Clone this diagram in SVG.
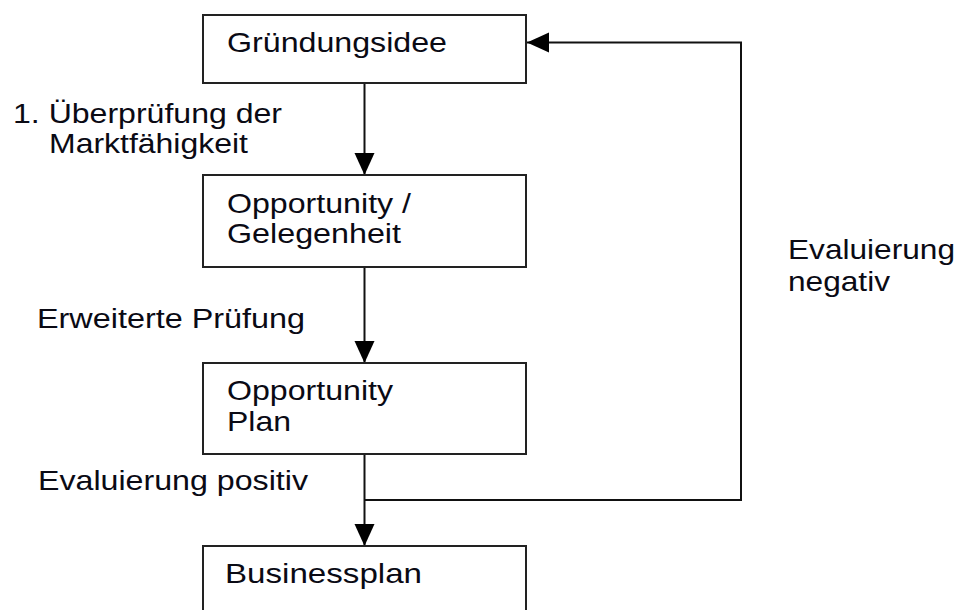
<svg xmlns="http://www.w3.org/2000/svg" width="964" height="610" viewBox="0 0 964 610">
<style>
.box{fill:#fff;stroke:#222;stroke-width:2}
.con{fill:none;stroke:#111;stroke-width:2}
text{font-family:"Liberation Sans",Arial,sans-serif;font-size:27.5px;fill:#0a0a14}
</style>
<defs>
<marker id="ah" markerUnits="userSpaceOnUse" markerWidth="24" markerHeight="22" refX="22" refY="10" orient="auto">
<path d="M0,0 L22,10 L0,20 z" fill="#000"/>
</marker>
</defs>
<rect width="964" height="610" fill="#fff"/>
<g id="connectors">
<path class="con" d="M364.5,83 V175" marker-end="url(#ah)"/>
<path class="con" d="M364.5,267 V363" marker-end="url(#ah)"/>
<path class="con" d="M364.5,454 V546" marker-end="url(#ah)"/>
<path class="con" d="M364.5,500 H741 V42.5 H527" marker-end="url(#ah)"/>
</g>
<g id="n1">
<rect class="box" x="203" y="15" width="323" height="68"/>
<text x="227" y="52" textLength="220" lengthAdjust="spacingAndGlyphs">Gründungsidee</text>
</g>
<g id="n2">
<rect class="box" x="203" y="175" width="323" height="92"/>
<text x="227" y="213" textLength="184" lengthAdjust="spacingAndGlyphs">Opportunity /</text>
<text x="227" y="243" textLength="174" lengthAdjust="spacingAndGlyphs">Gelegenheit</text>
</g>
<g id="n3">
<rect class="box" x="203" y="363" width="323" height="91"/>
<text x="227" y="400" textLength="166" lengthAdjust="spacingAndGlyphs">Opportunity</text>
<text x="227" y="431" textLength="64" lengthAdjust="spacingAndGlyphs">Plan</text>
</g>
<g id="n4">
<rect class="box" x="203" y="546" width="323" height="90"/>
<text x="225" y="583" textLength="197" lengthAdjust="spacingAndGlyphs">Businessplan</text>
</g>
<g id="labels">
<text x="13" y="123" textLength="269" lengthAdjust="spacingAndGlyphs">1. Überprüfung der</text>
<text x="49" y="153" textLength="199" lengthAdjust="spacingAndGlyphs">Marktfähigkeit</text>
<text x="37" y="328" textLength="268" lengthAdjust="spacingAndGlyphs">Erweiterte Prüfung</text>
<text x="38" y="490" textLength="270" lengthAdjust="spacingAndGlyphs">Evaluierung positiv</text>
<text x="788" y="259" textLength="167" lengthAdjust="spacingAndGlyphs">Evaluierung</text>
<text x="788" y="291" textLength="102" lengthAdjust="spacingAndGlyphs">negativ</text>
</g>
</svg>
